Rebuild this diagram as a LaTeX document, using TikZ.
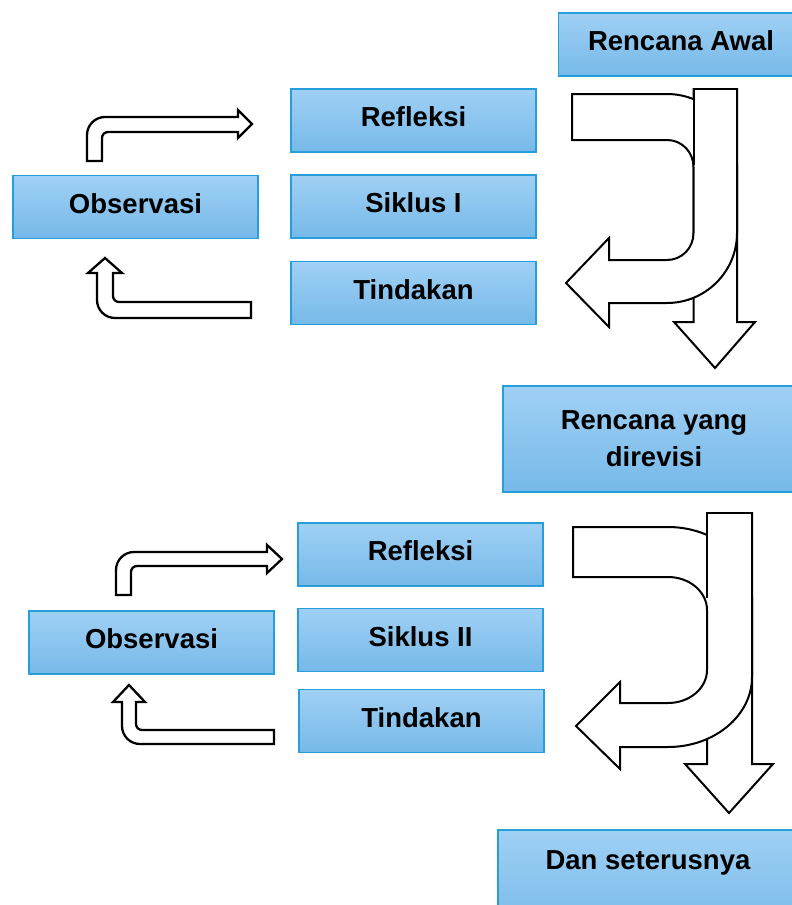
\documentclass[tikz,border=0pt]{standalone}
\usepackage{fontspec}
\setmainfont{Liberation Sans}
\definecolor{boxtop}{RGB}{160,208,244}
\definecolor{boxbot}{RGB}{118,185,233}
\definecolor{boxline}{RGB}{38,158,218}
\begin{document}
\begin{tikzpicture}[x=1pt,y=-1pt,
  box/.style={draw=boxline, line width=1.1pt, top color=boxtop, bottom color=boxbot,
    minimum width=245pt, minimum height=63pt, inner sep=0pt, align=center,
    font=\fontsize{27.5}{37}\selectfont\bfseries, text=black},
  oneline/.style={text height=20pt, text depth=8pt},
  blockarrow/.style={draw=black, fill=white, line width=2pt, line join=miter},
  smallarrow/.style={draw=black, fill=white, line width=2.3pt, line join=miter}]
\useasboundingbox (0,0) rectangle (792,905);
\clip (0,0) rectangle (792,905);
\fill[white] (0,0) rectangle (792,905);

% ---------- Cycle I ----------
\node[box, oneline] (awal) at (681,44.5) {Rencana Awal};
\node[box, oneline] (refl1) at (413.5,120.5) {Refleksi};
\node[box, oneline] (sik1) at (413.5,206.5) {Siklus I};
\node[box, oneline] (tind1) at (413.5,293) {Tindakan};
\node[box, oneline] (obs1) at (135.5,207) {Observasi};

% big straight down arrow I
\draw[blockarrow] (693.5,89) -- (737,89) -- (737,322) -- (755,322) -- (715,368) -- (674,322) -- (693.5,322) -- cycle;
% U-turn arrow I
\draw[blockarrow] (572,94) -- (667,94) .. controls (705.66,94) and (737,125.34) .. (737,164)
  -- (737,233) .. controls (737,271.66) and (705.66,303) .. (667,303)
  -- (609,303) -- (609,327) -- (566,283) -- (609,238) -- (609,260) -- (667,260)
  .. controls (681.91,260) and (693.5,247.91) .. (693.5,233)
  -- (693.5,167) .. controls (693.5,152.09) and (681.91,140) .. (667,140)
  -- (572,140) -- cycle;
% top part of the straight shaft in front
\fill[white] (693.5,89) rectangle (737,165);
\draw[line width=2pt, line join=miter] (693.5,165) -- (693.5,89) -- (737,89) -- (737,165);

% small bent arrows I
\draw[smallarrow] (87,161) -- (87,135) .. controls (87,125.06) and (95.06,117) .. (105,117)
  -- (238,117) -- (238,110) -- (252,124) -- (238,138) -- (238,132) -- (108,132)
  .. controls (104.7,132) and (102,134.7) .. (102,138) -- (102,161) -- cycle;
\draw[smallarrow] (251,302) -- (119,302) .. controls (115.7,302) and (113,299.3) .. (113,296)
  -- (113,273) -- (122,273) -- (105,258) -- (88,273) -- (97,273) -- (97,300)
  .. controls (97,309.94) and (105.06,318) .. (115,318) -- (251,318) -- cycle;

% ---------- Cycle II ----------
\node[box, minimum width=302pt, minimum height=106pt] (revisi) at (654,439) {Rencana yang\\direvisi};
\node[box, oneline] (refl2) at (420.5,554.5) {Refleksi};
\node[box, oneline] (sik2) at (420.5,640) {Siklus II};
\node[box, oneline] (tind2) at (421.5,721) {Tindakan};
\node[box, oneline] (obs2) at (151.5,642.5) {Observasi};
\node[box, minimum width=300pt, minimum height=106pt] (dan) at (648,883) {};
\node[font=\fontsize{27.5}{37}\selectfont\bfseries, text height=20pt, text depth=8pt] (dantext) at (648,863) {Dan seterusnya};

% big straight down arrow II
\draw[blockarrow] (707,513) -- (752,513) -- (752,764) -- (773,764) -- (729,813) -- (685,764) -- (707,764) -- cycle;
% U-turn arrow II
\draw[blockarrow] (573,527) -- (668,527) .. controls (714.39,527) and (752,558.34) .. (752,597)
  -- (752,677) .. controls (752,715.66) and (714.39,747) .. (668,747)
  -- (620,747) -- (620,769) -- (576,726) -- (620,682) -- (620,703) -- (668,703)
  .. controls (689.54,703) and (707,688.23) .. (707,670)
  -- (707,610) .. controls (707,591.77) and (689.54,577) .. (668,577)
  -- (573,577) -- cycle;
\fill[white] (707,513) rectangle (752,598);
\draw[line width=2pt, line join=miter] (707,598) -- (707,513) -- (752,513) -- (752,598);

% small bent arrows II
\draw[smallarrow] (116,595) -- (116,570) .. controls (116,560.06) and (124.06,552) .. (134,552)
  -- (267,552) -- (267,545) -- (282,559) -- (267,573) -- (267,566) -- (137,566)
  .. controls (133.7,566) and (131,568.7) .. (131,572) -- (131,595) -- cycle;
\draw[smallarrow] (274,730) -- (142,730) .. controls (138.7,730) and (136,727.3) .. (136,724)
  -- (136,702) -- (145,702) -- (129,685) -- (113,702) -- (122,702) -- (122,726)
  .. controls (122,735.94) and (130.06,744) .. (140,744) -- (274,744) -- cycle;
\end{tikzpicture}
\end{document}
